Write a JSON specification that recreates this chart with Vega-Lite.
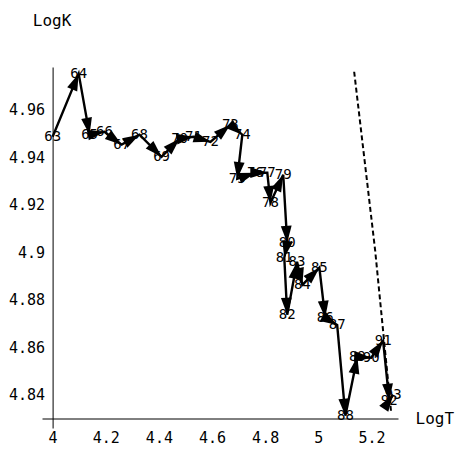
{
  "$schema": "https://vega.github.io/schema/vega-lite/v6.json",
  "autosize": "none",
  "width": 356,
  "height": 361,
  "padding": {"left": 42, "top": 67, "right": 64, "bottom": 34},
  "background": "white",
  "config": {"view": {"stroke": null}, "font": "DejaVu Sans Mono"},
  "datasets": {
    "pts": [
      {"year": 63, "T": 4.000, "K": 4.9486},
      {"year": 64, "T": 4.098, "K": 4.9752},
      {"year": 65, "T": 4.139, "K": 4.9495},
      {"year": 66, "T": 4.195, "K": 4.9507},
      {"year": 67, "T": 4.260, "K": 4.9453},
      {"year": 68, "T": 4.327, "K": 4.9495},
      {"year": 69, "T": 4.410, "K": 4.9402},
      {"year": 70, "T": 4.478, "K": 4.9478},
      {"year": 71, "T": 4.530, "K": 4.9486},
      {"year": 72, "T": 4.594, "K": 4.9465},
      {"year": 73, "T": 4.669, "K": 4.9537},
      {"year": 74, "T": 4.714, "K": 4.9495},
      {"year": 75, "T": 4.695, "K": 4.9309},
      {"year": 76, "T": 4.763, "K": 4.9335},
      {"year": 77, "T": 4.808, "K": 4.9335},
      {"year": 78, "T": 4.820, "K": 4.9208},
      {"year": 79, "T": 4.868, "K": 4.9326},
      {"year": 80, "T": 4.883, "K": 4.9040},
      {"year": 81, "T": 4.872, "K": 4.8977},
      {"year": 82, "T": 4.883, "K": 4.8737},
      {"year": 83, "T": 4.920, "K": 4.8960},
      {"year": 84, "T": 4.940, "K": 4.8863},
      {"year": 85, "T": 5.004, "K": 4.8935},
      {"year": 86, "T": 5.026, "K": 4.8724},
      {"year": 87, "T": 5.071, "K": 4.8694},
      {"year": 88, "T": 5.102, "K": 4.8312},
      {"year": 89, "T": 5.147, "K": 4.8560},
      {"year": 90, "T": 5.199, "K": 4.8556},
      {"year": 91, "T": 5.244, "K": 4.8627},
      {"year": 92, "T": 5.267, "K": 4.8375},
      {"year": 93, "T": 5.282, "K": 4.8400}
    ],
    "dash": [
      {"T": 5.135, "K": 4.9760},
      {"T": 5.214, "K": 4.9008},
      {"T": 5.274, "K": 4.8328}
    ]
  },
  "encoding": {
    "x": {
      "field": "T", "type": "quantitative",
      "scale": {"domain": [3.96, 5.30], "nice": false, "zero": false},
      "axis": {
        "values": [4, 4.2, 4.4, 4.6, 4.8, 5, 5.2],
        "offset": -9.5,
        "grid": false, "ticks": false,
        "domainColor": "black", "domainWidth": 1,
        "labelFont": "DejaVu Sans Mono", "labelFontSize": 15, "labelColor": "black",
        "labelPadding": 12, "labelBaseline": "top", "labelFlush": false, "labelOverlap": false,
        "labelExpr": "'' + datum.value",
        "title": "LogT", "titleX": 373, "titleY": 0, "titleAlign": "left", "titleBaseline": "middle",
        "titleFont": "DejaVu Sans Mono", "titleFontSize": 16, "titleFontWeight": "normal", "titleColor": "black"
      }
    },
    "y": {
      "field": "K", "type": "quantitative",
      "scale": {"domain": [4.826, 4.978], "nice": false, "zero": false},
      "axis": {
        "values": [4.84, 4.86, 4.88, 4.9, 4.92, 4.94, 4.96],
        "offset": -10.6,
        "grid": false, "ticks": false,
        "domainColor": "black", "domainWidth": 1,
        "labelFont": "DejaVu Sans Mono", "labelFontSize": 15, "labelColor": "black",
        "labelPadding": 8, "labelBaseline": "middle", "labelFlush": false, "labelOverlap": false,
        "labelExpr": "'' + datum.value",
        "title": "LogK", "titleX": -1, "titleY": -42, "titleAngle": 0, "titleAlign": "center", "titleBaseline": "alphabetic",
        "titleFont": "DejaVu Sans Mono", "titleFontSize": 16, "titleFontWeight": "normal", "titleColor": "black"
      }
    }
  },
  "layer": [
    {
      "data": {"name": "pts"},
      "mark": {"type": "text", "font": "DejaVu Sans Mono", "fontSize": 14, "color": "black", "align": "center", "baseline": "middle"},
      "encoding": {"text": {"field": "year", "type": "quantitative"}}
    },
    {
      "data": {"name": "dash"},
      "mark": {"type": "line", "color": "black", "strokeWidth": 2, "strokeDash": [5, 3]},
      "encoding": {"order": {"field": "K", "sort": "descending"}}
    },
    {
      "data": {"name": "pts"},
      "mark": {"type": "line", "color": "black", "strokeWidth": 2.4},
      "encoding": {"order": {"field": "year", "type": "quantitative"}}
    },
    {
      "data": {"name": "pts"},
      "transform": [
        {"window": [{"op": "lag", "field": "T", "as": "pT"}, {"op": "lag", "field": "K", "as": "pK"}], "sort": [{"field": "year"}]},
        {"filter": "datum.pT != null"},
        {"calculate": "atan2((datum.T - datum.pT) * 266, (datum.K - datum.pK) * 2375) * 180 / PI", "as": "ang"}
      ],
      "mark": {"type": "point", "shape": "M0,0L-0.32,1L0.32,1Z", "filled": true, "color": "black", "opacity": 1, "size": 1150, "strokeWidth": 0},
      "encoding": {"angle": {"field": "ang", "type": "quantitative", "scale": null}}
    }
  ]
}
